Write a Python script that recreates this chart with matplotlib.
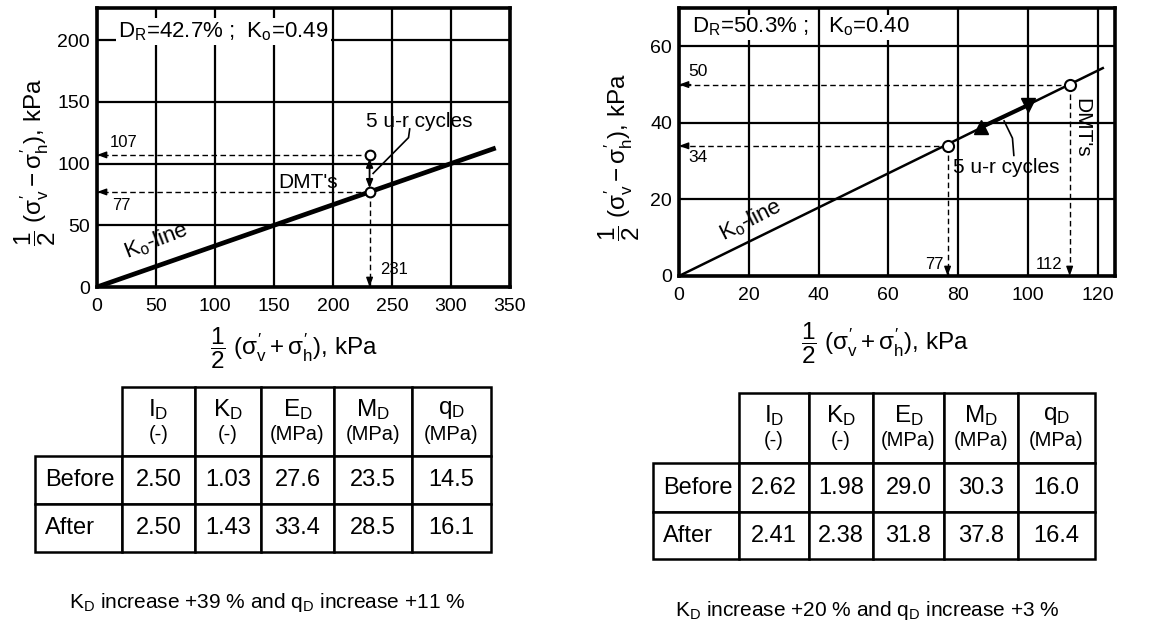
import matplotlib
matplotlib.use("Agg")
import matplotlib.pyplot as plt
from matplotlib.table import Table

plt.rcParams['font.family'] = ['Liberation Sans', 'DejaVu Sans']
plt.rcParams['mathtext.fontset'] = 'custom'
plt.rcParams['mathtext.rm'] = 'Liberation Sans'
plt.rcParams['mathtext.it'] = 'Liberation Sans'
plt.rcParams['mathtext.sf'] = 'Liberation Sans'
plt.rcParams['mathtext.bf'] = 'Liberation Sans:bold'

# ---------------- data ----------------
# left test
L_xlim = (0, 350)
L_ylim = (0, 226)
L_xticks = [0, 50, 100, 150, 200, 250, 300, 350]
L_yticks = [0, 50, 100, 150, 200]
L_ko_x = [0, 336]
L_ko_y = [0, 112]
L_dmt_x = [231, 231]
L_dmt_y = [77, 107]
L_title = r"$\mathregular{D_R}$=42.7% ;  $\mathregular{K_o}$=0.49"

# right test
R_xlim = (0, 125)
R_ylim = (0, 70)
R_xticks = [0, 20, 40, 60, 80, 100, 120]
R_yticks = [0, 20, 40, 60]
R_ko_x = [0, 121.5]
R_ko_y = [0, 54.3]
R_dmt_x = [77, 112]
R_dmt_y = [34, 50]
R_up_x, R_up_y = [86.5], [38.8]
R_dn_x, R_dn_y = [100], [44.6]
R_title1 = r"$\mathregular{D_R}$=50.3% ;"
R_title2 = r"$\mathregular{K_o}$=0.40"

# tables
col_symbols = [r"$\mathregular{I_D}$", r"$\mathregular{K_D}$", r"$\mathregular{E_D}$",
               r"$\mathregular{M_D}$", r"$\mathregular{q_D}$"]
col_units = ["(-)", "(-)", "(MPa)", "(MPa)", "(MPa)"]
row_labels = ["Before", "After"]
L_table = [["2.50", "1.03", "27.6", "23.5", "14.5"],
           ["2.50", "1.43", "33.4", "28.5", "16.1"]]
R_table = [["2.62", "1.98", "29.0", "30.3", "16.0"],
           ["2.41", "2.38", "31.8", "37.8", "16.4"]]
L_caption = r"$\mathregular{K_D}$ increase +39 % and $\mathregular{q_D}$ increase +11 %"
R_caption = r"$\mathregular{K_D}$ increase +20 % and $\mathregular{q_D}$ increase +3 %"

xlabel = r"$\dfrac{1}{2}\ (\sigma_v^{\prime}+\sigma_h^{\prime})$, kPa"
ylabel = r"$\dfrac{1}{2}\ (\sigma_v^{\prime}-\sigma_h^{\prime})$, kPa"

W, H = 1172, 626
fig = plt.figure(figsize=(W / 100, H / 100), dpi=100)


def px_axes(x0, y0, x1, y1):
    return fig.add_axes([x0 / W, 1 - y1 / H, (x1 - x0) / W, (y1 - y0) / H])


def style(ax, xlim, ylim, xticks, yticks):
    ax.set_xlim(*xlim)
    ax.set_ylim(*ylim)
    ax.set_xticks(xticks)
    ax.set_yticks(yticks)
    ax.grid(True, color='black', lw=1.6, zorder=1)
    ax.set_axisbelow(True)
    for s in ax.spines.values():
        s.set_linewidth(2.6)
    ax.tick_params(axis='both', length=0, labelsize=14)
    ax.tick_params(axis='x', pad=8)
    ax.tick_params(axis='y', pad=5)
    ax.set_xlabel(xlabel, fontsize=17.5)
    ax.set_ylabel(ylabel, fontsize=17.5)


def dashed_arrow(ax, x0, y0, x1, y1):
    ax.plot([x0, x1], [y0, y1], color='k', lw=1.0, ls=(0, (4, 2.5)), zorder=3)
    ax.annotate('', xy=(x1, y1), xytext=(x0 + (x1 - x0) * 0.97, y0 + (y1 - y0) * 0.97),
                arrowprops=dict(arrowstyle='-|>,head_length=0.55,head_width=0.2',
                                color='k', lw=1.0, shrinkA=0, shrinkB=0), zorder=3)


# ---------------- left chart ----------------
axL = px_axes(97, 8, 510, 287)
style(axL, L_xlim, L_ylim, L_xticks, L_yticks)
axL.plot(L_ko_x, L_ko_y, color='k', lw=3.4, zorder=4)
axL.plot(L_dmt_x, L_dmt_y, 'o', mfc='white', mec='k', ms=7, mew=1.5, zorder=6)
dashed_arrow(axL, L_dmt_x[1], L_dmt_y[1], 0, L_dmt_y[1])
dashed_arrow(axL, L_dmt_x[0], L_dmt_y[0], 0, L_dmt_y[0])
dashed_arrow(axL, L_dmt_x[0], L_dmt_y[0], L_dmt_x[0], 0)
axL.annotate('', xy=(L_dmt_x[0], L_dmt_y[0] + 3), xytext=(L_dmt_x[1], L_dmt_y[1] - 3),
             arrowprops=dict(arrowstyle='<|-|>,head_length=0.5,head_width=0.2',
                             color='k', lw=1.3, shrinkA=0, shrinkB=0), zorder=5)
axL.plot([265, 264, 234], [128, 121, 92], color='k', lw=1.2, zorder=5)
axL.text(228, 134, "5 u-r cycles", fontsize=15, ha='left', va='center', zorder=7)
axL.text(154, 85, "DMT's", fontsize=15, ha='left', va='center', zorder=7)
axL.text(50, 37, r"$\mathregular{K_o}$-line", fontsize=16, rotation=21,
         ha='center', va='center', zorder=7)
axL.text(11, 117, "107", fontsize=12, ha='left', va='center', zorder=7)
axL.text(13, 66, "77", fontsize=12, ha='left', va='center', zorder=7)
axL.text(240, 14, "231", fontsize=12, ha='left', va='center', zorder=7)
axL.text(18, 207, L_title, fontsize=16, ha='left', va='center', zorder=7,
         bbox=dict(facecolor='white', edgecolor='none', pad=1.5))
axL.xaxis.set_label_coords(0.477, -0.136)
axL.yaxis.set_label_coords(-0.095, 0.448)

# ---------------- right chart ----------------
axR = px_axes(679, 8, 1115, 276)
style(axR, R_xlim, R_ylim, R_xticks, R_yticks)
axR.plot(R_ko_x, R_ko_y, color='k', lw=1.8, zorder=4)
axR.plot([R_up_x[0], R_dn_x[0]], [R_up_y[0], R_dn_y[0]], color='k', lw=3.0, zorder=4)
axR.plot(R_dmt_x, R_dmt_y, 'o', mfc='white', mec='k', ms=8, mew=1.5, zorder=6)
axR.plot(R_up_x, R_up_y, '^', color='k', ms=10, zorder=6)
axR.plot(R_dn_x, R_dn_y, 'v', color='k', ms=10, zorder=6)
for xx, yy in zip(R_dmt_x, R_dmt_y):
    dashed_arrow(axR, xx, yy, 0, yy)
    dashed_arrow(axR, xx, yy, xx, 0)
axR.plot([96, 95.6, 93.2], [31.5, 36, 40.5], color='k', lw=1.2, zorder=5)
axR.text(78.5, 28.3, "5 u-r cycles", fontsize=15, ha='left', va='center', zorder=7)
axR.text(115.5, 38.8, "DMT's", fontsize=15, rotation=270, ha='center', va='center', zorder=7)
axR.text(20.5, 14.5, r"$\mathregular{K_o}$-line", fontsize=16, rotation=27,
         ha='center', va='center', zorder=7)
axR.text(2.7, 53.5, "50", fontsize=12.5, ha='left', va='center', zorder=7)
axR.text(2.8, 31, "34", fontsize=12.5, ha='left', va='center', zorder=7)
axR.text(75.8, 3, "77", fontsize=12, ha='right', va='center', zorder=7)
axR.text(110, 3, "112", fontsize=12, ha='right', va='center', zorder=7)
axR.text(3.7, 65, R_title1, fontsize=16, ha='left', va='center', zorder=7,
         bbox=dict(facecolor='white', edgecolor='none', pad=1.0))
axR.text(42.8, 65, R_title2, fontsize=16, ha='left', va='center', zorder=7,
         bbox=dict(facecolor='white', edgecolor='none', pad=1.0))
axR.xaxis.set_label_coords(0.472, -0.164)
axR.yaxis.set_label_coords(-0.084, 0.444)

# ---------------- tables ----------------
axT = fig.add_axes([0, 0, 1, 1], zorder=-1)
axT.set_xlim(0, W)
axT.set_ylim(H, 0)
axT.axis('off')


def make_table(cells, col_edges, row_edges, caption, cap_xy):
    widths = [col_edges[i + 1] - col_edges[i] for i in range(len(col_edges) - 1)]
    heights = [row_edges[i + 1] - row_edges[i] for i in range(len(row_edges) - 1)]
    tb = Table(axT, bbox=[col_edges[0] / W, 1 - row_edges[-1] / H,
                          (col_edges[-1] - col_edges[0]) / W,
                          (row_edges[-1] - row_edges[0]) / H])
    # header row
    for j in range(len(col_units)):
        tb.add_cell(0, j + 1, width=widths[j + 1] / W, height=heights[0] / H, text='')
    # body rows
    for i, lab in enumerate(row_labels):
        c = tb.add_cell(i + 1, 0, width=widths[0] / W, height=heights[i + 1] / H,
                        text=lab, loc='left')
        c.PAD = 0.12
        for j, val in enumerate(cells[i]):
            tb.add_cell(i + 1, j + 1, width=widths[j + 1] / W, height=heights[i + 1] / H,
                        text=val, loc='center')
    tb.auto_set_font_size(False)
    tb.set_fontsize(17)
    for cell in tb.get_celld().values():
        cell.set_linewidth(1.8)
    axT.add_table(tb)
    for j in range(len(col_units)):
        xc = (col_edges[j + 1] + col_edges[j + 2]) / 2
        axT.text(xc, row_edges[0] + 23, col_symbols[j], fontsize=17.5, ha='center', va='center')
        axT.text(xc, row_edges[0] + 48, col_units[j], fontsize=14.5, ha='center', va='center')
    axT.text(cap_xy[0], cap_xy[1], caption, fontsize=15, ha='center', va='center')


make_table(L_table, [35, 122, 195, 261, 334, 412, 491], [387, 456, 504, 552],
           L_caption, (267, 603))
make_table(R_table, [653, 739, 809, 873, 944, 1018, 1095], [393, 463, 512, 559],
           R_caption, (867, 610))

fig.savefig("out.png", dpi=100)
